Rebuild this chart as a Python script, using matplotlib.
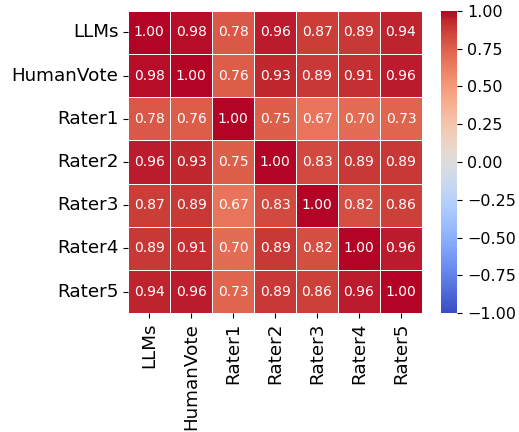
import numpy as np
import pandas as pd
import matplotlib
matplotlib.use("Agg")
import matplotlib.pyplot as plt
import seaborn as sns

labels = ["LLMs", "HumanVote", "Rater1", "Rater2", "Rater3", "Rater4", "Rater5"]

corr_values = [
    [1.00, 0.98, 0.78, 0.96, 0.87, 0.89, 0.94],
    [0.98, 1.00, 0.76, 0.93, 0.89, 0.91, 0.96],
    [0.78, 0.76, 1.00, 0.75, 0.67, 0.70, 0.73],
    [0.96, 0.93, 0.75, 1.00, 0.83, 0.89, 0.89],
    [0.87, 0.89, 0.67, 0.83, 1.00, 0.82, 0.86],
    [0.89, 0.91, 0.70, 0.89, 0.82, 1.00, 0.96],
    [0.94, 0.96, 0.73, 0.89, 0.86, 0.96, 1.00],
]

corr = pd.DataFrame(corr_values, index=labels, columns=labels)

fig = plt.figure(figsize=(5.19, 4.32), dpi=100)
ax = fig.add_axes([0.247, 0.275, 0.566, 0.700])
cax = fig.add_axes([0.850, 0.275, 0.031, 0.700])

sns.heatmap(corr, ax=ax, cbar_ax=cax, cmap="coolwarm", vmin=-1, vmax=1,
            annot=True, fmt=".2f", linewidths=0.5, linecolor="white",
            annot_kws={"size": 10})

ax.tick_params(axis="both", labelsize=13.2)
ax.set_xticklabels(labels, rotation=90)
ax.set_yticklabels(labels, rotation=0)
cax.tick_params(labelsize=11.5)

fig.savefig("out.png", dpi=100)
